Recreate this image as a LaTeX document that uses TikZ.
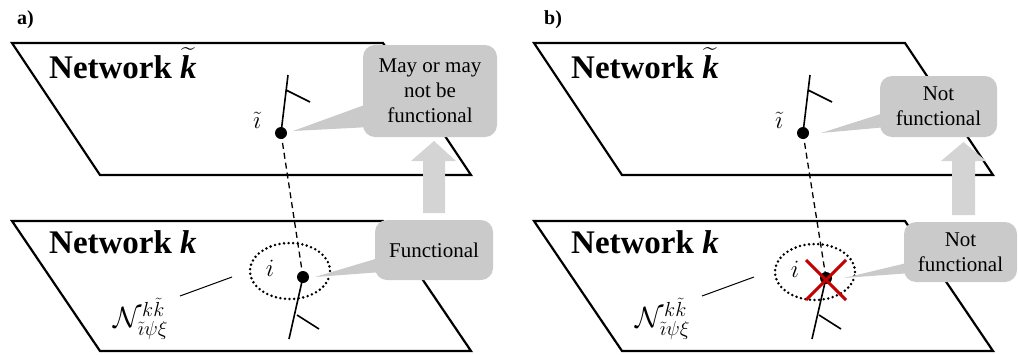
\documentclass[tikz,border=0pt]{standalone}
\usepackage{amsmath}
\usepackage{graphicx}
\usepackage{fontspec}
\setmainfont{Liberation Serif}
\usetikzlibrary{shapes.geometric}
\definecolor{calloutgray}{RGB}{202,202,202}
\definecolor{arrowgray}{RGB}{212,212,212}
\definecolor{xred}{RGB}{196,0,0}
\newcommand{\nbset}{\scalebox{1.18}{$\mathcal{N}^{k\tilde{k}}_{\tilde{\imath}\psi\xi}$}}
\begin{document}
\begin{tikzpicture}[x=1pt,y=-1pt,
  plane/.style={draw, line width=2.2pt, line join=miter},
  stick/.style={line width=1.6pt},
  dot/.style={circle, fill=black, inner sep=0pt, minimum size=12pt},
  link/.style={line width=1.3pt, dash pattern=on 6pt off 4pt},
  nbhd/.style={ellipse, draw, line width=2.8pt, dash pattern=on 0pt off 4.6pt, line cap=round, minimum width=80pt, minimum height=56pt, inner sep=0pt},
  callout/.style={fill=calloutgray, rounded corners=12pt, align=center, font=\fontsize{21}{25}\selectfont, inner sep=0pt},
  bigarrow/.style={fill=arrowgray},
  netlabel/.style={anchor=base west, font=\fontsize{33}{36}\selectfont\bfseries, inner sep=0pt},
  panellabel/.style={anchor=base west, font=\fontsize{20}{24}\selectfont\bfseries, inner sep=0pt},
  mathlabel/.style={font=\fontsize{23}{26}\selectfont, inner sep=0pt},
  setlabel/.style={font=\fontsize{24}{28}\selectfont, inner sep=0pt},
  leader/.style={line width=1pt},
  cross/.style={draw=xred, line width=3pt}
]
\useasboundingbox (0,0) rectangle (1018,354);

% ---------------- panel a ----------------
\node[panellabel] (pa) at (17,24) {a)};
\draw[plane] (12,43) -- (383,43) -- (471,175) -- (100,175) -- cycle;
\draw[plane] (12,221) -- (383,221) -- (471,351) -- (100,351) -- cycle;
\node[netlabel] (nta) at (49,78) {Network $\widetilde{\text{\bfseries\itshape k}}$};
\node[netlabel] (nba) at (49,253) {Network \textit{k}};

\coordinate (ta) at (281,133);
\coordinate (tatop) at (288,75);
\coordinate (taj) at (286,90);
\coordinate (tabr) at (310,102);
\coordinate (ba) at (303,277);
\coordinate (babot) at (289,339);
\coordinate (baj) at (297,315);
\coordinate (babr) at (319,329);

\draw[stick] (ta) -- (tatop);
\draw[stick] (taj) -- (tabr);
\draw[stick] (ba) -- (babot);
\draw[stick] (baj) -- (babr);
\draw[link] (ta) -- (ba);
\node[nbhd] (ea) at (290,271) {};
\node[mathlabel] (tia) at (257,120) {$\tilde{\imath}$};
\node[mathlabel] (ia) at (270,268) {$i$};
\node[setlabel] (na) at (141,319) {\nbset};
\coordinate (la1) at (180,296);
\coordinate (la2) at (232,277);
\draw[leader] (la1) -- (la2);

\fill[calloutgray] (370,103) -- (293,131) -- (370,127) -- cycle;
\node[callout, minimum width=134pt, minimum height=92pt] (ca) at (430,91) {May or may\\not be\\functional};
\fill[calloutgray] (382,257) -- (315,277) -- (382,272) -- cycle;
\node[callout, minimum width=118pt, minimum height=60pt] (cb) at (434,250) {Functional};
\fill[bigarrow] (423,213) -- (423,161) -- (411,161) -- (434,141) -- (456,161) -- (445,161) -- (445,213) -- cycle;

\node[dot] (dta) at (ta) {};
\node[dot] (dba) at (ba) {};

% ---------------- panel b ----------------
\node[panellabel] (pb) at (544,24) {b)};
\draw[plane] (534,43) -- (905,43) -- (993,175) -- (622,175) -- cycle;
\draw[plane] (534,221) -- (905,221) -- (993,351) -- (622,351) -- cycle;
\node[netlabel] (ntb) at (571,78) {Network $\widetilde{\text{\bfseries\itshape k}}$};
\node[netlabel] (nbb) at (571,253) {Network \textit{k}};

\coordinate (tb) at (803,133);
\coordinate (tbtop) at (810,75);
\coordinate (tbj) at (808,90);
\coordinate (tbbr) at (832,102);
\coordinate (bb) at (826,278);
\coordinate (bbbot) at (812,339);
\coordinate (bbj) at (819,315);
\coordinate (bbbr) at (841,329);

\draw[stick] (tb) -- (tbtop);
\draw[stick] (tbj) -- (tbbr);
\draw[stick] (bb) -- (bbbot);
\draw[stick] (bbj) -- (bbbr);
\draw[link] (tb) -- (bb);
\node[nbhd] (eb) at (815,272) {};
\node[mathlabel] (tib) at (779,120) {$\tilde{\imath}$};
\node[mathlabel] (ib) at (795,269) {$i$};
\node[setlabel] (nb) at (663,319) {\nbset};
\coordinate (lb1) at (702,296);
\coordinate (lb2) at (754,277);
\draw[leader] (lb1) -- (lb2);

\fill[calloutgray] (887,112) -- (821,133) -- (887,127) -- cycle;
\node[callout, minimum width=117pt, minimum height=61pt] (cc) at (938.5,106.5) {Not\\functional};
\fill[calloutgray] (911,262) -- (844,278) -- (911,273) -- cycle;
\node[callout, minimum width=113pt, minimum height=60pt] (cd) at (960.5,252) {Not\\functional};
\fill[bigarrow] (952,215) -- (952,161) -- (941,161) -- (963.5,142) -- (986,161) -- (975,161) -- (975,215) -- cycle;

\node[dot] (dtb) at (tb) {};
\node[dot] (dbb) at (bb) {};
\coordinate (x1) at (806,260);
\coordinate (x2) at (846,300);
\coordinate (x3) at (846,260);
\coordinate (x4) at (806,300);
\draw[cross] (x1) -- (x2);
\draw[cross] (x3) -- (x4);
\end{tikzpicture}
\end{document}
